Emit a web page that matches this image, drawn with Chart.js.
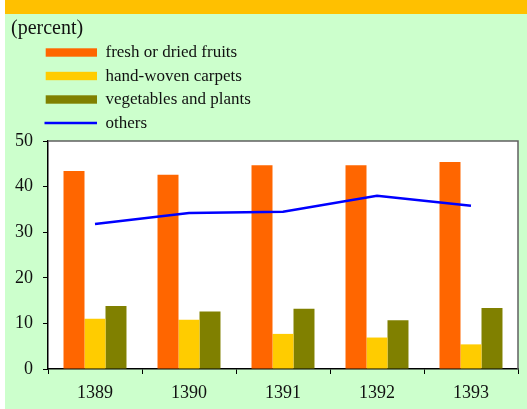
<!DOCTYPE html>
<html>
<head>
<meta charset="utf-8">
<script src="https://cdn.jsdelivr.net/npm/chart.js@4/dist/chart.umd.min.js"></script>
<style>
  html, body { margin: 0; padding: 0; background: #ffffff; }
  body { width: 527px; height: 409px; position: relative; overflow: hidden; }
  #bg { position: absolute; left: 5px; top: 0; width: 522px; height: 409px; background: #CCFFCC; }
  #band { position: absolute; left: 5px; top: 0; width: 522px; height: 14px; background: #FFC000; }
  #c { position: absolute; left: 0; top: 0; }
</style>
</head>
<body>
<div id="bg"></div>
<div id="band"></div>
<canvas id="c" width="527" height="409"></canvas>
<script>
const categories = ["1389", "1390", "1391", "1392", "1393"];
const fruits = [43.4, 42.6, 44.7, 44.7, 45.4];
const carpets = [11.0, 10.8, 7.7, 6.9, 5.4];
const vegetables = [13.8, 12.6, 13.2, 10.7, 13.4];
const others = [31.8, 34.2, 34.5, 38.0, 35.8];
const unitLabel = "(percent)";
const seriesNames = ["fresh or dried fruits", "hand-woven carpets", "vegetables and plants", "others"];

const FONT = "'Liberation Serif', 'Times New Roman', serif";

const framePlugin = {
  id: 'frame',
  beforeDraw(chart) {
    const { ctx, chartArea: a } = chart;
    ctx.save();
    ctx.fillStyle = '#ffffff';
    ctx.fillRect(a.left, a.top, a.right - a.left, a.bottom - a.top);
    ctx.restore();
  },
  afterDraw(chart) {
    const { ctx, chartArea: a } = chart;
    ctx.save();
    ctx.strokeStyle = '#606060';
    ctx.lineWidth = 1.5;
    ctx.beginPath();
    ctx.moveTo(a.left, a.top);
    ctx.lineTo(a.right, a.top);
    ctx.lineTo(a.right, a.bottom);
    ctx.stroke();
    // unit label
    ctx.fillStyle = '#111111';
    ctx.font = "20px " + FONT;
    ctx.textBaseline = 'middle';
    ctx.textAlign = 'left';
    ctx.fillText(unitLabel, 11, 29);
    // legend
    const ys = [52.5, 76, 99.5, 123];
    chart.data.datasets.forEach((ds, i) => {
      const y = ys[i];
      if (ds.type === 'line') {
        ctx.strokeStyle = ds.borderColor;
        ctx.lineWidth = 2.5;
        ctx.beginPath();
        ctx.moveTo(44.5, y);
        ctx.lineTo(97, y);
        ctx.stroke();
      } else {
        ctx.fillStyle = ds.backgroundColor;
        ctx.fillRect(45.7, y - 4.2, 51.3, 8.4);
      }
      ctx.fillStyle = '#111111';
      ctx.font = "17px " + FONT;
      ctx.textBaseline = 'middle';
      ctx.fillText(ds.label, 105.5, y + 0.5);
    });
    ctx.restore();
  }
};

new Chart(document.getElementById('c'), {
  data: {
    labels: categories,
    datasets: [
      { type: 'bar', label: seriesNames[0], data: fruits, backgroundColor: '#FF6600', order: 1 },
      { type: 'bar', label: seriesNames[1], data: carpets, backgroundColor: '#FFCC00', order: 1 },
      { type: 'bar', label: seriesNames[2], data: vegetables, backgroundColor: '#808000', order: 1 },
      { type: 'line', label: seriesNames[3], data: others, borderColor: '#0000FF', backgroundColor: '#0000FF',
        borderWidth: 2.5, pointRadius: 0, tension: 0, fill: false, order: 0 }
    ]
  },
  options: {
    responsive: false,
    animation: false,
    devicePixelRatio: 1,
    layout: { padding: { top: 141, right: 9, left: 0, bottom: 0 } },
    datasets: { bar: { categoryPercentage: 0.67, barPercentage: 1.0 } },
    plugins: { legend: { display: false }, tooltip: { enabled: false } },
    scales: {
      x: {
        offset: true,
        grid: { display: true, offset: true, drawOnChartArea: false, drawTicks: true, tickLength: 5, tickColor: '#000000', lineWidth: 1 },
        border: { display: true, color: '#000000', width: 1.5 },
        ticks: { color: '#111111', font: { family: FONT, size: 18 }, padding: 8, maxRotation: 0 },
        afterFit(s) { s.height = 40; }
      },
      y: {
        min: 0, max: 50,
        grid: { display: true, drawOnChartArea: false, drawTicks: true, tickLength: 5, tickColor: '#000000' },
        border: { display: true, color: '#000000', width: 1.5 },
        ticks: { stepSize: 10, color: '#111111', font: { family: FONT, size: 18 }, padding: 10 },
        afterFit(s) { s.width = 48; }
      }
    }
  },
  plugins: [framePlugin]
});
</script>
</body>
</html>
